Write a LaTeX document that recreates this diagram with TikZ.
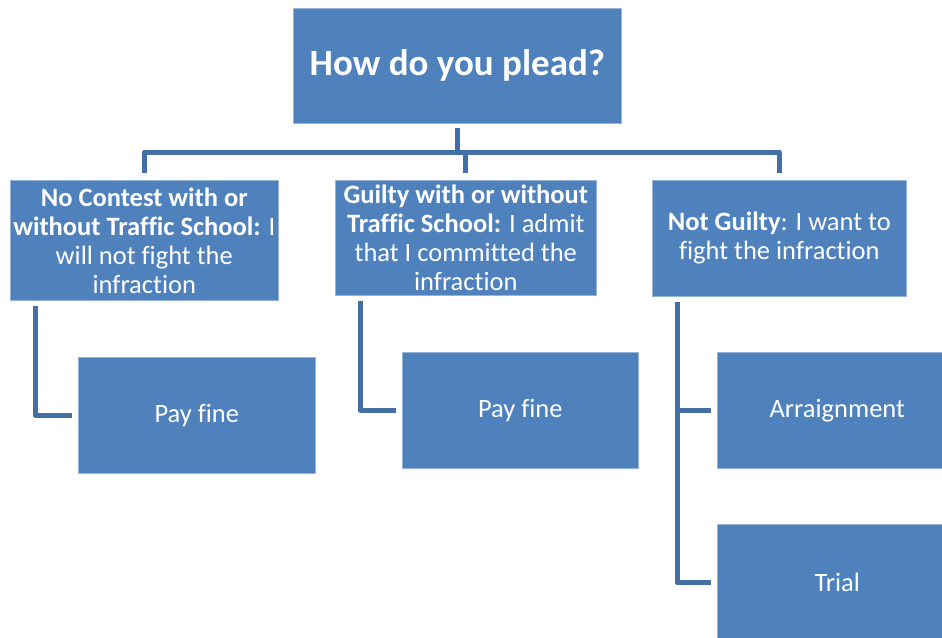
\documentclass[tikz,border=0pt]{standalone}
\usepackage{fontspec}
\setmainfont{Carlito}[Ligatures=CommonOff]
\definecolor{boxblue}{RGB}{79,129,189}
\definecolor{linkblue}{RGB}{67,111,164}
\tikzset{
    box/.style = {fill=boxblue, draw=boxblue!60!white, line width=0.6pt, text=white,
        align=center, inner sep=0pt, anchor=north west,
        font=\fontsize{26.5}{29}\selectfont},
    link/.style = {draw=linkblue, line width=5pt, line join=round},
}

\begin{document}
\begin{tikzpicture}[x=1pt, y=-1pt]
    \useasboundingbox (0,0) rectangle (942,637);

    % the question
    \node[box, minimum width=328pt, minimum height=115pt,
          font=\bfseries\fontsize{37}{42}\selectfont] (plead) at (293,8) {How do you plead?};

    % the three pleas
    \node[box, minimum width=268pt, minimum height=120pt] (contest) at (10,180)
        {\textbf{No Contest with or}\\\textbf{without Traffic School:} I\\will not fight the\\infraction};
    \node[box, minimum width=261pt, minimum height=115pt] (guilty) at (335,180)
        {\textbf{Guilty with or without}\\\textbf{Traffic School:} I admit\\that I committed the\\infraction};
    \node[box, minimum width=254pt, minimum height=116pt] (notguilty) at (652,180)
        {\textbf{Not Guilty}: I want to\\fight the infraction};

    % what follows
    \node[box, minimum width=237pt, minimum height=116pt] (payA) at (78,357) {Pay fine};
    \node[box, minimum width=236pt, minimum height=116pt] (payB) at (402,352) {Pay fine};
    \node[box, minimum width=240pt, minimum height=116pt] (arraign) at (717,352) {Arraignment};
    \node[box, minimum width=240pt, minimum height=116pt] (trial) at (717,524) {Trial};

    % connectors
    \coordinate (bar) at (0,152);
    \draw[link] ([yshift=-4pt]plead.south) -- (plead.south |- bar);
    \draw[link] ([yshift=7pt]contest.north) -- (contest.north |- bar)
        -- (notguilty.north |- bar) -- ([yshift=7pt]notguilty.north);
    \draw[link] ([yshift=7pt]guilty.north) -- (guilty.north |- bar);

    \draw[link] ([xshift=25pt,yshift=-5pt]contest.south west) |- ([xshift=-6pt]payA.west);
    \draw[link] ([xshift=25pt,yshift=-5pt]guilty.south west) |- ([xshift=-6pt]payB.west);
    \coordinate (ngtrunk) at ([xshift=25pt,yshift=-5pt]notguilty.south west);
    \draw[link] (ngtrunk) |- ([xshift=-6pt]trial.west);
    \draw[link] (ngtrunk |- arraign.west) -- ([xshift=-6pt]arraign.west);
\end{tikzpicture}
\end{document}
